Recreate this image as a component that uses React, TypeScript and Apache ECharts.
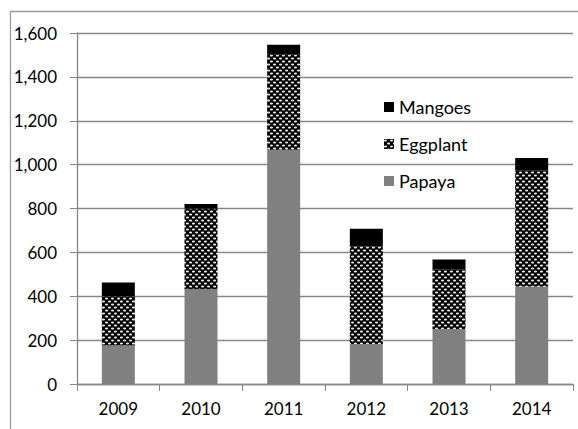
import React, { useEffect, useRef } from "react";
import * as echarts from "echarts";

const categories = ["2009", "2010", "2011", "2012", "2013", "2014"];
const papaya = [176, 433, 1068, 182, 251, 445];
const eggplant = [224, 366, 433, 445, 270, 527];
const mangoes = [63, 21, 46, 81, 46, 58];
const yTicks = { min: 0, max: 1600, interval: 200 };

function makePattern(): HTMLCanvasElement {
  const c = document.createElement("canvas");
  c.width = 6;
  c.height = 6;
  const ctx = c.getContext("2d")!;
  ctx.fillStyle = "#000";
  ctx.fillRect(0, 0, 6, 6);
  ctx.fillStyle = "#e6e6e6";
  ctx.beginPath();
  ctx.ellipse(1.5, 1.5, 1.6, 0.9, 0, 0, Math.PI * 2);
  ctx.fill();
  ctx.beginPath();
  ctx.ellipse(4.5, 4.5, 1.6, 0.9, 0, 0, Math.PI * 2);
  ctx.fill();
  return c;
}

export default function App() {
  const ref = useRef<HTMLDivElement>(null);
  useEffect(() => {
    if (!ref.current) return;
    const chart = echarts.init(ref.current, undefined, { renderer: "svg" });
    const pattern = makePattern();
    const font = "Lato";
    chart.setOption({
      animation: false,
      backgroundColor: "#fff",
      textStyle: { fontFamily: font },
      graphic: [
        {
          type: "rect",
          shape: { x: 10.5, y: 11.5, width: 700, height: 700 },
          style: { fill: "none", stroke: "#9a9a9a", lineWidth: 1.3 },
          silent: true,
          z: -1,
        },
      ],
      grid: { left: 77, right: 5, top: 33, bottom: 45 },
      legend: {
        orient: "vertical",
        left: 379,
        top: 92,
        itemWidth: 10,
        itemHeight: 10,
        itemGap: 17,
        itemTextGap: 6,
        icon: "rect",
        data: ["Mangoes", "Eggplant", "Papaya"],
        textStyle: { fontFamily: font, fontSize: 18, color: "#000", lineHeight: 20 },
      },
      xAxis: {
        type: "category",
        data: categories,
        axisLine: { lineStyle: { color: "#878787", width: 1.3 } },
        axisTick: { show: true, length: 7, lineStyle: { color: "#878787" } },
        axisLabel: { fontFamily: font, fontSize: 17, color: "#000", margin: 16 },
      },
      yAxis: {
        type: "value",
        min: yTicks.min,
        max: yTicks.max,
        interval: yTicks.interval,
        axisLine: { show: true, lineStyle: { color: "#878787", width: 1.3 } },
        axisTick: { show: true, length: 7, lineStyle: { color: "#878787" } },
        splitLine: { lineStyle: { color: "#878787", width: 1.3 } },
        axisLabel: {
          fontFamily: font,
          fontSize: 17,
          color: "#000",
          margin: 20,
          formatter: (v: number) => v.toLocaleString("en-US"),
        },
      },
      series: [
        {
          name: "Papaya",
          type: "bar",
          stack: "a",
          barWidth: 33,
          data: papaya,
          itemStyle: { color: "#808080" },
        },
        {
          name: "Eggplant",
          type: "bar",
          stack: "a",
          barWidth: 33,
          data: eggplant,
          itemStyle: {
            color: { image: pattern, repeat: "repeat", imageWidth: 6, imageHeight: 6 } as any,
          },
        },
        {
          name: "Mangoes",
          type: "bar",
          stack: "a",
          barWidth: 33,
          data: mangoes,
          itemStyle: { color: "#000" },
        },
      ],
    });
    return () => chart.dispose();
  }, []);
  return (
    <div
      ref={ref}
      style={{ position: "fixed", left: 0, top: 0, width: 578, height: 429 }}
    />
  );
}
